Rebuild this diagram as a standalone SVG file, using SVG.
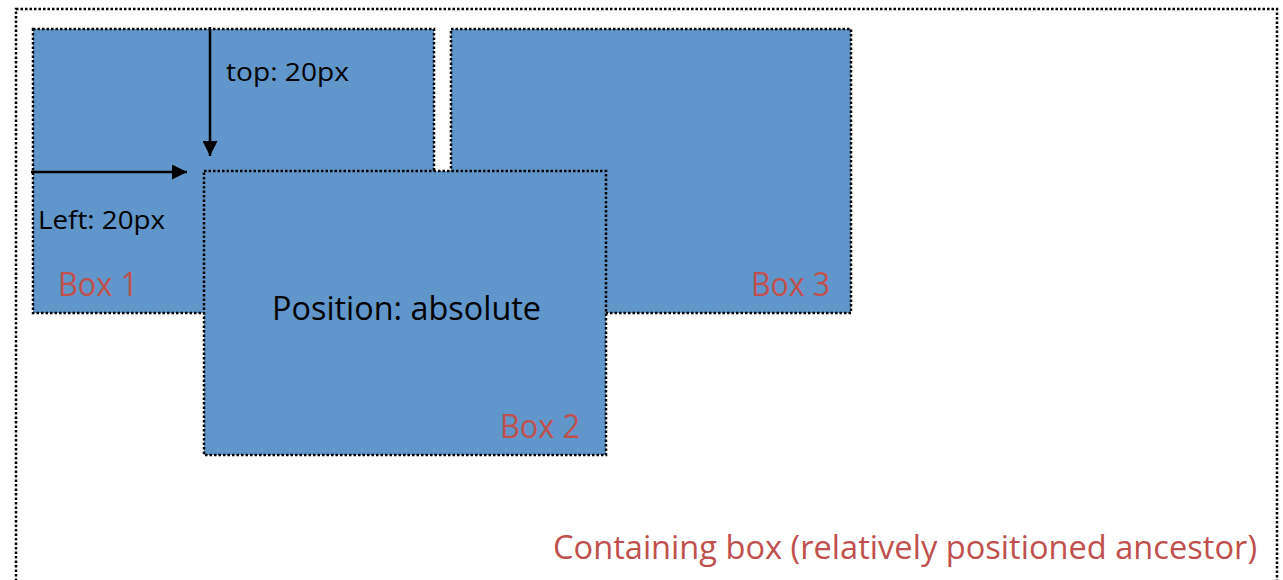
<svg xmlns="http://www.w3.org/2000/svg" width="1283" height="580" viewBox="0 0 1283 580">
<style>
.dot{stroke:#000;stroke-width:2.5;stroke-dasharray:2.5 2;}
.box{fill:#6096C9;}
.red{fill:#C0504D;font-family:"Open Sans","Noto Sans",sans-serif;}
.blk{fill:#000;font-family:"Open Sans","Noto Sans",sans-serif;}
.arr{stroke:#000;stroke-width:2.5;fill:none;}
</style>
<defs>
<marker id="ah2" viewBox="0 0 15 15" refX="15" refY="7.5" markerWidth="15" markerHeight="15" orient="auto" markerUnits="userSpaceOnUse">
<path d="M0,0 L15,7.5 L0,15 Z" fill="#000"/>
</marker>
</defs>
<rect width="1283" height="580" fill="#fff"/>
<g id="container">
<rect class="dot" x="16" y="9" width="1261" height="600" fill="#fff"/>
<text class="red" x="553" y="559" font-size="32" textLength="704" lengthAdjust="spacingAndGlyphs">Containing box (relatively positioned ancestor)</text>
</g>
<g id="box1">
<rect class="box dot" x="33" y="29" width="401" height="284"/>
<text class="red" x="58" y="296" font-size="32" textLength="80" lengthAdjust="spacingAndGlyphs">Box 1</text>
</g>
<g id="box3">
<rect class="box dot" x="451" y="29" width="400" height="284"/>
<text class="red" x="751" y="296" font-size="32" textLength="79" lengthAdjust="spacingAndGlyphs">Box 3</text>
</g>
<g id="box2">
<rect class="box dot" x="204" y="171" width="402" height="284"/>
<text class="blk" x="272" y="320" font-size="32" textLength="269" lengthAdjust="spacingAndGlyphs">Position: absolute</text>
<text class="red" x="500" y="438" font-size="32" textLength="80" lengthAdjust="spacingAndGlyphs">Box 2</text>
</g>
<g id="connectors">
<line class="arr" x1="210" y1="27" x2="210" y2="156" marker-end="url(#ah2)"/>
<line class="arr" x1="31" y1="172" x2="187" y2="172" marker-end="url(#ah2)"/>
</g>
<g id="labels">
<text class="blk" x="226" y="81" font-size="26" textLength="123" lengthAdjust="spacingAndGlyphs">top: 20px</text>
<text class="blk" x="38" y="229" font-size="26" textLength="127" lengthAdjust="spacingAndGlyphs">Left: 20px</text>
</g>
</svg>
